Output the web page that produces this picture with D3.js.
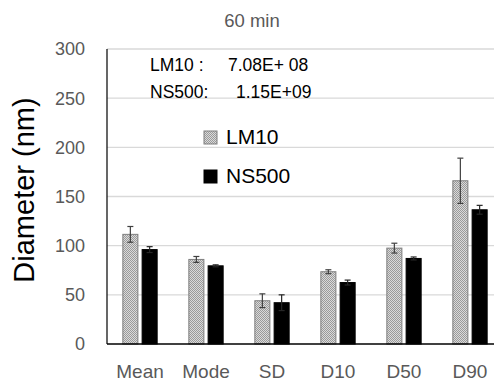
<!DOCTYPE html>
<html>
<head>
<meta charset="utf-8">
<script src="https://cdn.jsdelivr.net/npm/d3@7"></script>
<style>
  body { margin: 0; background: #fff; }
  svg { display: block; font-family: "Liberation Sans", "DejaVu Sans", sans-serif; }
</style>
</head>
<body>
<div id="chart"></div>
<script>
const categories = ['Mean', 'Mode', 'SD', 'D10', 'D50', 'D90'];
const seriesNames = ['LM10', 'NS500'];
const lm10Values = [111.5, 86, 44, 73.5, 97.5, 166];
const lm10Errors = [8, 3, 7, 2, 5, 23];
const ns500Values = [96, 79.5, 42, 62.5, 87, 136.5];
const ns500Errors = [3, 1, 8, 2.5, 1.5, 4.5];
const yTicks = [0, 50, 100, 150, 200, 250, 300];
const noteLines = [['LM10 :', '7.08E+ 08'], ['NS500:', '1.15E+09']];

const width = 494, height = 383;
const margin = { top: 49, right: -9, bottom: 39, left: 107 };

const svg = d3.select('#chart')
  .append('svg')
  .attr('width', width)
  .attr('height', height);

// dotted fill for the LM10 bars
const defs = svg.append('defs');
const pat = defs.append('pattern')
  .attr('id', 'dots')
  .attr('width', 2)
  .attr('height', 2)
  .attr('patternUnits', 'userSpaceOnUse');
pat.append('rect').attr('width', 2).attr('height', 2).attr('fill', '#dadada');
pat.append('rect').attr('width', 1).attr('height', 1).attr('fill', '#9a9a9a');
pat.append('rect').attr('x', 1).attr('y', 1).attr('width', 1).attr('height', 1).attr('fill', '#9a9a9a');

const x = d3.scaleBand()
  .domain(categories)
  .range([margin.left, width - margin.right])
  .paddingInner(0.48)
  .paddingOuter(0.24);

const x1 = d3.scaleBand()
  .domain(seriesNames)
  .range([0, x.bandwidth()])
  .paddingInner(0.22);

const y = d3.scaleLinear()
  .domain([0, 300])
  .range([height - margin.bottom, margin.top]);

// gridlines
svg.append('g')
  .selectAll('line')
  .data(yTicks.slice(1))
  .enter()
  .append('line')
  .attr('x1', margin.left)
  .attr('x2', width)
  .attr('y1', (d) => y(d))
  .attr('y2', (d) => y(d))
  .attr('stroke', '#d9d9d9')
  .attr('stroke-width', 1.3);

// y tick labels
svg.append('g')
  .selectAll('text')
  .data(yTicks)
  .enter()
  .append('text')
  .attr('x', 85)
  .attr('y', (d) => y(d))
  .attr('dy', '0.36em')
  .attr('text-anchor', 'end')
  .attr('fill', '#595959')
  .style('font-size', '18px')
  .text((d) => d);

const series = [
  { name: 'LM10', values: lm10Values, errors: lm10Errors, fill: 'url(#dots)', stroke: '#7f7f7f', err: '#404040' },
  { name: 'NS500', values: ns500Values, errors: ns500Errors, fill: '#000', stroke: '#000', err: '#262626' },
];

series.forEach((s) => {
  const g = svg.append('g');
  g.selectAll('rect')
    .data(categories)
    .enter()
    .append('rect')
    .attr('x', (c) => x(c) + x1(s.name))
    .attr('y', (c, i) => y(s.values[i]))
    .attr('width', x1.bandwidth())
    .attr('height', (c, i) => y(0) - y(s.values[i]))
    .attr('fill', s.fill)
    .attr('stroke', s.stroke)
    .attr('stroke-width', 1);

  // error bars
  const eb = g.selectAll('g.err')
    .data(categories)
    .enter()
    .append('g')
    .attr('class', 'err')
    .attr('stroke', s.err)
    .attr('stroke-width', 1.2);
  const cx = (c) => x(c) + x1(s.name) + x1.bandwidth() / 2;
  eb.append('line')
    .attr('x1', cx).attr('x2', cx)
    .attr('y1', (c, i) => y(s.values[i] + s.errors[i]))
    .attr('y2', (c, i) => y(s.values[i] - s.errors[i]));
  [1, -1].forEach((sign) => {
    eb.append('line')
      .attr('x1', (c) => cx(c) - 3).attr('x2', (c) => cx(c) + 3)
      .attr('y1', (c, i) => y(s.values[i] + sign * s.errors[i]))
      .attr('y2', (c, i) => y(s.values[i] + sign * s.errors[i]));
  });
});

// axes lines
svg.append('line')
  .attr('x1', margin.left).attr('x2', margin.left)
  .attr('y1', y(300)).attr('y2', y(0))
  .attr('stroke', '#000').attr('stroke-width', 1.2);
svg.append('line')
  .attr('x1', margin.left).attr('x2', width)
  .attr('y1', y(0)).attr('y2', y(0))
  .attr('stroke', '#000').attr('stroke-width', 1.5);

// x labels
svg.append('g')
  .selectAll('text')
  .data(categories)
  .enter()
  .append('text')
  .attr('x', (c) => x(c) + x.bandwidth() / 2)
  .attr('y', 378)
  .attr('text-anchor', 'middle')
  .attr('fill', '#595959')
  .style('font-size', '19px')
  .text((c) => c);

// title
svg.append('text')
  .attr('x', 252)
  .attr('y', 27)
  .attr('text-anchor', 'middle')
  .attr('fill', '#595959')
  .style('font-size', '18.5px')
  .text('60 min');

// y-axis title
svg.append('text')
  .attr('transform', 'translate(34,190) rotate(-90)')
  .attr('text-anchor', 'middle')
  .attr('fill', '#000')
  .style('font-size', '29px')
  .text('Diameter (nm)');

// annotation
noteLines.forEach((ln, i) => {
  svg.append('text')
    .attr('x', 150).attr('y', 71 + i * 27)
    .style('font-size', '17.5px')
    .text(ln[0]);
  svg.append('text')
    .attr('x', i === 0 ? 228 : 236).attr('y', 71 + i * 27)
    .style('font-size', '17.5px')
    .text(ln[1]);
});

// legend
series.forEach((s, i) => {
  const ly = 144 + i * 39;
  svg.append('rect')
    .attr('x', 204).attr('y', ly - 13)
    .attr('width', 13).attr('height', 13)
    .attr('fill', s.fill)
    .attr('stroke', s.stroke);
  svg.append('text')
    .attr('x', 226).attr('y', ly)
    .style('font-size', '21px')
    .text(s.name);
});
</script>
</body>
</html>
